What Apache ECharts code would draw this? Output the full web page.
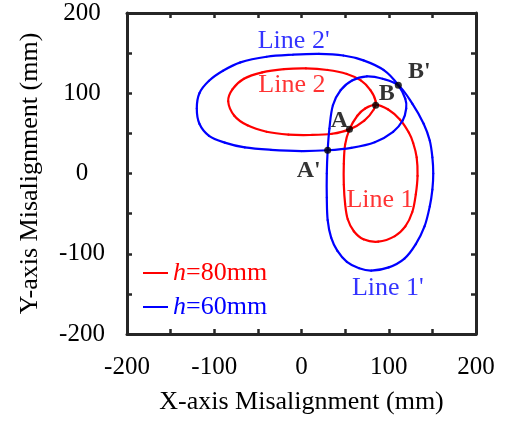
<!DOCTYPE html>
<html>
<head>
<meta charset="utf-8">
<script src="https://cdn.jsdelivr.net/npm/echarts@6/dist/echarts.min.js"></script>
<style>
  html, body { margin: 0; padding: 0; background: #fff; }
  #chart { width: 513px; height: 423px; }
</style>
</head>
<body>
<div id="chart"></div>
<script>
// Misalignment boundary loops, [x, y] in mm (closed: last point joins the first)
const line1_h80 = [
  [88, -85], [107, -78], [119, -66], [127, -48], [131, -26], [133, -3], [132, 20],
  [128, 38], [123, 51], [113, 67], [99, 80], [85, 85.5], [73, 81], [64, 72],
  [55, 55], [50, 36], [48.5, 12], [48.5, -14], [50, -38], [53, -57], [60, -72],
  [71, -82]
];
const line2_h80 = [
  [-84, 90], [-79, 105], [-66, 118], [-45, 126], [-20, 130], [5, 131], [30, 129],
  [52, 124], [68, 116], [79, 104], [85, 90], [83, 80], [72, 66], [55, 55],
  [35, 49.5], [10, 48], [-15, 48.5], [-40, 52], [-62, 60], [-77, 72]
];
const line1_h60 = [
  [80, -121], [100, -117], [118, -106], [131, -88], [141, -66], [147, -41], [150, -20],
  [151, 0], [150, 20], [147, 41], [140, 62], [127, 87], [111, 110], [93, 118],
  [75, 121], [58, 116], [45, 104], [36, 85], [32, 56], [30, 29], [29, 0],
  [29, -30], [30, -58], [34, -80], [41, -96], [52, -110], [66, -118]
];
const line2_h60 = [
  [-120, 81], [-117, 100], [-106, 115.5], [-90, 128], [-70, 138.5], [-40, 145.5], [-10, 148],
  [20, 149], [48, 147], [71, 141], [94, 129], [111, 110], [119, 93], [120, 81],
  [116, 66], [105, 52], [84, 39], [57, 32], [30, 29], [0, 28], [-35, 29.5],
  [-65, 32.5], [-88, 38.5], [-106, 47], [-117, 62]
];

// Crossing points of the loops
const crossNames = ['A', 'B', "A'", "B'"];
const crossX = [55, 85, 30, 111];
const crossY = [55, 85, 29, 110];

// Loop captions
const captionNames = ['Line 1', 'Line 2', "Line 1'", "Line 2'"];
const captionX = [90, -11, 99, -9];
const captionY = [-33, 110, -143, 165];

const legendNames = ['h=80mm', 'h=60mm'];
const axisTicks = [-200, -100, 0, 100, 200];

const RED = '#ff0000';
const BLUE = '#0000ff';
const FONT = 'Liberation Serif';
const AXIS_COLOR = '#262626';

const crossLabelOffsets = [[-10, -9], [11, -11], [-19, 21], [21, -13]];
const captionColors = [RED, RED, BLUE, BLUE];

function axisBase() {
  return {
    type: 'value',
    min: axisTicks[0],
    max: axisTicks[axisTicks.length - 1],
    interval: axisTicks[1] - axisTicks[0],
    axisLine: { show: true, onZero: false, lineStyle: { color: AXIS_COLOR, width: 3 } },
    axisTick: { show: true, inside: true, length: 5, lineStyle: { color: AXIS_COLOR, width: 2.5 } },
    minorTick: { show: true, splitNumber: 2, length: 5, lineStyle: { color: AXIS_COLOR, width: 2.5 } },
    splitLine: { show: false },
    minorSplitLine: { show: false }
  };
}

const labelFont = { color: '#000', fontFamily: FONT, fontSize: 25 };
const nameFont = { color: '#000', fontFamily: FONT, fontSize: 26 };

// Closed smooth loop through the given points, drawn segment by segment
// as cubic Bezier curves in pixel space (tangent from neighbouring points).
function loop(name, pts, color) {
  const n = pts.length;
  return {
    type: 'custom',
    name: name,
    coordinateSystem: 'cartesian2d',
    data: pts,
    encode: { x: 0, y: 1 },
    itemStyle: { color: color },
    silent: true,
    z: 2,
    renderItem: function (params, api) {
      const i = params.dataIndex;
      const P = function (k) { return api.coord(pts[((k % n) + n) % n]); };
      const p0 = P(i - 1), p1 = P(i), p2 = P(i + 1), p3 = P(i + 2);
      const d12 = Math.hypot(p2[0] - p1[0], p2[1] - p1[1]);
      const ta = [p2[0] - p0[0], p2[1] - p0[1]];
      const tb = [p3[0] - p1[0], p3[1] - p1[1]];
      const la = Math.hypot(ta[0], ta[1]) || 1;
      const lb = Math.hypot(tb[0], tb[1]) || 1;
      const k = d12 / 3;
      return {
        type: 'bezierCurve',
        silent: true,
        shape: {
          x1: p1[0], y1: p1[1],
          x2: p2[0], y2: p2[1],
          cpx1: p1[0] + ta[0] / la * k, cpy1: p1[1] + ta[1] / la * k,
          cpx2: p2[0] - tb[0] / lb * k, cpy2: p2[1] - tb[1] / lb * k
        },
        style: { fill: 'none', stroke: color, lineWidth: 2.2, lineCap: 'round' }
      };
    }
  };
}

const chart = echarts.init(document.getElementById('chart'), null, { renderer: 'canvas' });

chart.setOption({
  animation: false,
  backgroundColor: '#fff',
  grid: { left: 127, right: 37, top: 13, bottom: 89 },
  xAxis: [
    Object.assign(axisBase(), {
      position: 'bottom',
      name: 'X-axis Misalignment (mm)',
      nameLocation: 'middle',
      nameGap: 55,
      nameTextStyle: nameFont,
      axisLabel: Object.assign({ margin: 21 }, labelFont)
    }),
    Object.assign(axisBase(), { position: 'top', axisLabel: { show: false } })
  ],
  yAxis: [
    Object.assign(axisBase(), {
      position: 'left',
      name: 'Y-axis Misalignment (mm)',
      nameLocation: 'middle',
      nameGap: 84,
      nameRotate: 90,
      nameTextStyle: nameFont,
      axisLabel: Object.assign({ margin: 45, align: 'center' }, labelFont)
    }),
    Object.assign(axisBase(), { position: 'right', axisLabel: { show: false } })
  ],
  legend: {
    orient: 'vertical',
    left: 143,
    top: 260,
    padding: 0,
    data: legendNames,
    icon: 'rect',
    itemWidth: 25,
    itemHeight: 2,
    itemGap: 8,
    selectedMode: false,
    formatter: function (n) {
      return n === legendNames[0]
        ? '{ri|h}{rn|' + n.slice(1) + '}'
        : '{bi|h}{bn|' + n.slice(1) + '}';
    },
    textStyle: {
      fontFamily: FONT,
      fontSize: 26,
      rich: {
        ri: { color: RED, fontStyle: 'italic', fontFamily: FONT, fontSize: 26 },
        rn: { color: RED, fontFamily: FONT, fontSize: 26 },
        bi: { color: BLUE, fontStyle: 'italic', fontFamily: FONT, fontSize: 26 },
        bn: { color: BLUE, fontFamily: FONT, fontSize: 26 }
      }
    }
  },
  series: [
    loop(legendNames[0], line1_h80, RED),
    loop(legendNames[0], line2_h80, RED),
    loop(legendNames[1], line1_h60, BLUE),
    loop(legendNames[1], line2_h60, BLUE),
    {
      type: 'scatter',
      name: 'crossings',
      symbolSize: 7,
      itemStyle: { color: '#000' },
      z: 5,
      data: crossNames.map(function (n, i) {
        return {
          name: n,
          value: [crossX[i], crossY[i]],
          label: { offset: crossLabelOffsets[i] }
        };
      }),
      label: {
        show: true,
        position: 'inside',
        formatter: '{b}',
        color: '#000',
        fontFamily: FONT,
        fontSize: 24,
        fontWeight: 'bold'
      }
    },
    {
      type: 'scatter',
      name: 'captions',
      symbolSize: 0,
      silent: true,
      z: 4,
      data: captionNames.map(function (n, i) {
        return {
          name: n,
          value: [captionX[i], captionY[i]],
          label: { color: captionColors[i] }
        };
      }),
      label: {
        show: true,
        position: 'inside',
        formatter: '{b}',
        fontFamily: FONT,
        fontSize: 26
      }
    }
  ]
});
</script>
</body>
</html>
